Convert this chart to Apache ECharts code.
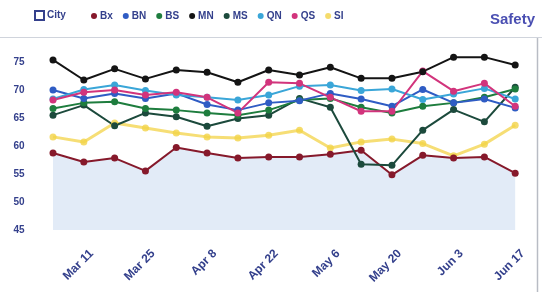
<!DOCTYPE html>
<html>
<head>
<meta charset="utf-8">
<script src="https://cdn.jsdelivr.net/npm/echarts@6/dist/echarts.min.js"></script>
<style>
html,body{margin:0;padding:0;background:#fff;}
#chart{width:542px;height:292px;}
</style>
</head>
<body>
<div id="chart"></div>
<script>
var categories = ['Mar 4','Mar 11','Mar 18','Mar 25','Apr 1','Apr 8','Apr 15','Apr 22','Apr 29','May 6','May 13','May 20','May 27','Jun 3','Jun 10','Jun 17'];
var seriesNames = ['Bx','BN','BS','MN','MS','QN','QS','SI'];
var Bx = [58.8, 57.2, 57.9, 55.6, 59.8, 58.8, 57.9, 58.1, 58.1, 58.6, 59.3, 54.9, 58.4, 57.9, 58.1, 55.2];
var BN = [70.1, 68.6, 69.5, 68.6, 69.5, 67.5, 66.5, 67.8, 68.2, 69.5, 68.5, 67.2, 70.2, 67.8, 68.5, 66.9];
var BS = [66.8, 67.8, 68.0, 66.8, 66.5, 66.0, 65.6, 66.5, 68.3, 68.6, 67.0, 66.0, 67.2, 67.8, 68.8, 70.3];
var MN = [75.5, 71.9, 73.9, 72.1, 73.7, 73.3, 71.5, 73.7, 72.8, 74.2, 72.2, 72.2, 73.4, 76.0, 76.0, 74.6];
var MS = [65.6, 67.4, 63.7, 66.0, 65.3, 63.6, 65.0, 65.6, 68.6, 67.0, 56.8, 56.6, 62.9, 66.6, 64.4, 70.6];
var QN = [68.5, 70.2, 71.0, 70.0, 69.2, 68.8, 68.3, 69.2, 70.8, 71.0, 70.0, 70.3, 68.4, 69.4, 70.4, 68.5];
var QS = [68.3, 69.7, 70.1, 69.2, 69.7, 68.8, 66.0, 71.5, 71.3, 68.8, 66.3, 66.3, 73.5, 69.9, 71.3, 67.2];
var SI = [61.7, 60.8, 64.2, 63.3, 62.4, 61.7, 61.5, 62.0, 62.9, 59.7, 60.8, 61.3, 60.5, 58.3, 60.4, 63.8];
var yTicks = [45, 50, 55, 60, 65, 70, 75];

var colors = {
  Bx: '#86192b', BN: '#2f5cc4', BS: '#1e7d3e', MN: '#141414',
  MS: '#1c4a3c', QN: '#3aa6d8', QS: '#d2347c', SI: '#f3d347'
};
var dataMap = {Bx:Bx, BN:BN, BS:BS, MN:MN, MS:MS, QN:QN, QS:QS, SI:SI};
var drawOrder = ['SI','Bx','MS','BS','BN','QN','QS','MN'];

var textColor = '#34408c';
var series = drawOrder.map(function(n){
  var s = {
    name: n, type: 'line', data: dataMap[n],
    symbol: 'circle', symbolSize: 7,
    lineStyle: {width: n === 'SI' ? 3 : 2, color: colors[n], opacity: n === 'SI' ? 0.75 : 1},
    itemStyle: {color: colors[n], opacity: n === 'SI' ? 0.8 : 1},
    emphasis: {disabled: true},
    animation: false
  };
  if (n === 'Bx') {
    s.areaStyle = {color: '#dfe9f6', opacity: 0.9, origin: 'start'};
  }
  return s;
});

var chart = echarts.init(document.getElementById('chart'));
chart.setOption({
  backgroundColor: '#ffffff',
  animation: false,
  title: {
    text: 'Safety', right: 2, top: 7,
    textStyle: {color: '#4a4fb2', fontSize: 15, fontWeight: 'bold', fontFamily: 'Liberation Sans'}
  },
  legend: {
    data: seriesNames, left: 86, top: 6,
    icon: 'circle', itemWidth: 6, itemHeight: 6, itemGap: 10,
    textStyle: {color: textColor, fontSize: 10, fontWeight: 'bold', fontFamily: 'Liberation Sans', padding: [0,0,0,-2]}
  },
  graphic: [
    {type: 'rect', left: 34, top: 10, shape: {width: 9, height: 9},
     style: {fill: '#fff', stroke: textColor, lineWidth: 2}},
    {type: 'text', left: 47, top: 10,
     style: {text: 'City', fill: textColor, font: 'bold 10px Liberation Sans'}},
    {type: 'line', shape: {x1: 0, y1: 37.5, x2: 542, y2: 37.5},
     style: {stroke: '#d0d4dc', lineWidth: 1}},
    {type: 'line', shape: {x1: 537.5, y1: 38, x2: 537.5, y2: 292},
     style: {stroke: '#b8bcc4', lineWidth: 1.5}}
  ],
  grid: {left: 37.6, right: 11.4, top: 46, bottom: 62},
  xAxis: {
    type: 'category', data: categories, boundaryGap: true,
    axisLine: {show: false}, axisTick: {show: false},
    axisLabel: {
      interval: function(i){ return i % 2 === 1; },
      rotate: 45, margin: 14, color: textColor, fontSize: 12, fontWeight: 'bold',
      fontFamily: 'Liberation Sans', verticalAlign: 'top', lineHeight: 22
    }
  },
  yAxis: {
    type: 'value', min: yTicks[0], max: 78, interval: 5,
    axisLine: {show: false}, axisTick: {show: false}, splitLine: {show: false},
    axisLabel: {showMaxLabel: false, margin: 13, color: textColor, fontSize: 10, fontWeight: 'bold',
      fontFamily: 'Liberation Sans'}
  },
  series: series
});
</script>
</body>
</html>
